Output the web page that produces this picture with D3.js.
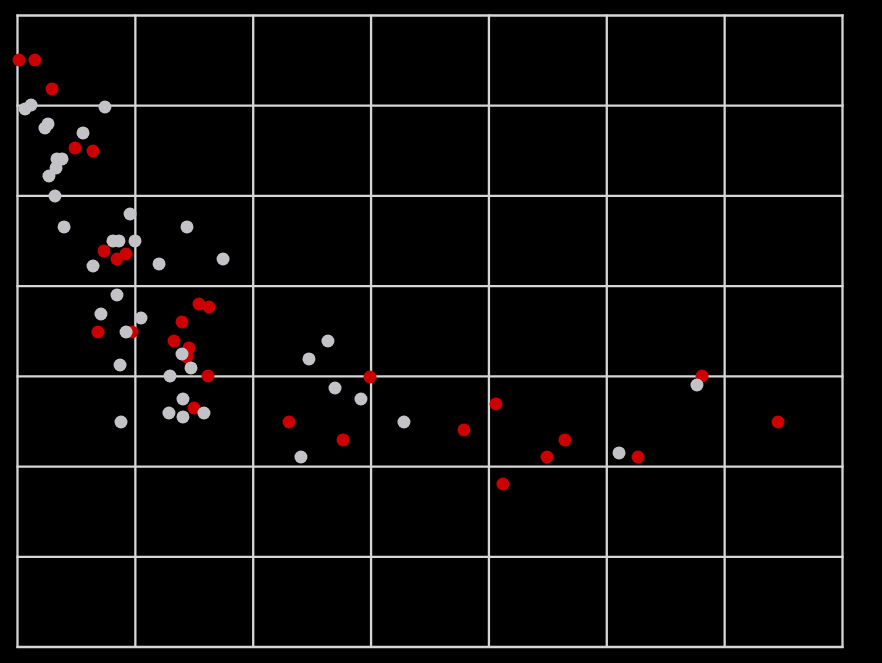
<!DOCTYPE html>
<html>
<head>
<meta charset="utf-8">
<script src="https://cdn.jsdelivr.net/npm/d3@7"></script>
<style>
  html, body { margin: 0; padding: 0; background: #000; }
  svg { display: block; }
</style>
</head>
<body>
<div id="chart"></div>
<script>
// grid ticks (no visible labels in the picture)
const xTicks = [0, 10, 20, 30, 40, 50, 60, 70];
const yTicks = [0, 10, 20, 30, 40, 50, 60, 70];

// grey series [x, y]
const greyPoints = [
  [0.64, 59.64], [1.15, 60.08], [7.42, 59.86], [2.33, 57.53], [2.59, 57.98],
  [5.56, 56.98], [3.35, 54.10], [3.78, 54.10], [3.27, 53.10], [2.67, 52.21],
  [3.18, 49.99], [9.55, 48.00], [3.95, 46.56], [14.38, 46.56], [8.10, 45.01],
  [8.61, 45.01], [9.97, 45.01], [6.41, 42.23], [12.01, 42.46], [17.44, 43.01],
  [8.44, 39.02], [7.08, 36.91], [10.48, 36.47], [9.21, 34.92], [8.70, 31.26],
  [13.96, 32.48], [14.72, 30.93], [12.94, 30.04], [14.04, 27.49], [12.85, 25.94],
  [14.04, 25.50], [15.82, 25.94], [8.78, 24.94], [26.34, 33.92], [24.73, 31.93],
  [26.94, 28.71], [29.14, 27.49], [32.79, 24.94], [24.05, 21.06], [51.04, 21.51],
  [57.65, 29.04]
];

// red series [x, y]
const redPoints = [
  [0.13, 65.07], [1.48, 65.07], [2.93, 61.86], [4.88, 55.32], [6.41, 54.98],
  [7.34, 43.90], [8.44, 43.01], [9.21, 43.57], [6.83, 34.92], [9.71, 34.92],
  [15.40, 38.02], [16.25, 37.69], [13.96, 36.03], [13.28, 33.92], [14.55, 33.15],
  [14.38, 32.15], [16.16, 30.04], [14.98, 26.49], [23.04, 24.94], [27.62, 22.95],
  [29.91, 29.93], [40.60, 26.94], [37.88, 24.06], [46.45, 22.95], [44.93, 21.06],
  [41.19, 18.07], [52.65, 21.06], [58.08, 30.04], [64.53, 24.94]
];

const full_width = 882, full_height = 663;
const margin = {top: 15.5, right: 39.5, bottom: 16, left: 17.5};
const width = full_width - margin.left - margin.right;
const height = full_height - margin.top - margin.bottom;

const svg = d3.select('#chart')
  .append('svg')
    .attr('width', full_width)
    .attr('height', full_height)
    .style('background', '#000')
  .append('g')
    .attr('transform', 'translate(' + margin.left + ',' + margin.top + ')');

const x = d3.scaleLinear().domain([0, 70]).range([0, width]);
const y = d3.scaleLinear().domain([0, 70]).range([height, 0]);

// grid
const grid = svg.append('g').attr('stroke', '#d6d6d6').attr('stroke-width', 2.3);
grid.selectAll('.vx').data(xTicks).enter().append('line')
  .attr('x1', d => x(d)).attr('x2', d => x(d))
  .attr('y1', -1.1).attr('y2', height + 1.1);
grid.selectAll('.hy').data(yTicks).enter().append('line')
  .attr('y1', d => y(d)).attr('y2', d => y(d))
  .attr('x1', -1.1).attr('x2', width + 1.1);

// red first, grey on top (matches most overlaps in the picture)
svg.append('g').selectAll('circle')
  .data(redPoints).enter().append('circle')
    .attr('cx', d => x(d[0]))
    .attr('cy', d => y(d[1]))
    .attr('r', 6.5)
    .style('fill', '#cc0000');

svg.append('g').selectAll('circle')
  .data(greyPoints).enter().append('circle')
    .attr('cx', d => x(d[0]))
    .attr('cy', d => y(d[1]))
    .attr('r', 6.5)
    .style('fill', '#c3c3c7');
</script>
</body>
</html>
